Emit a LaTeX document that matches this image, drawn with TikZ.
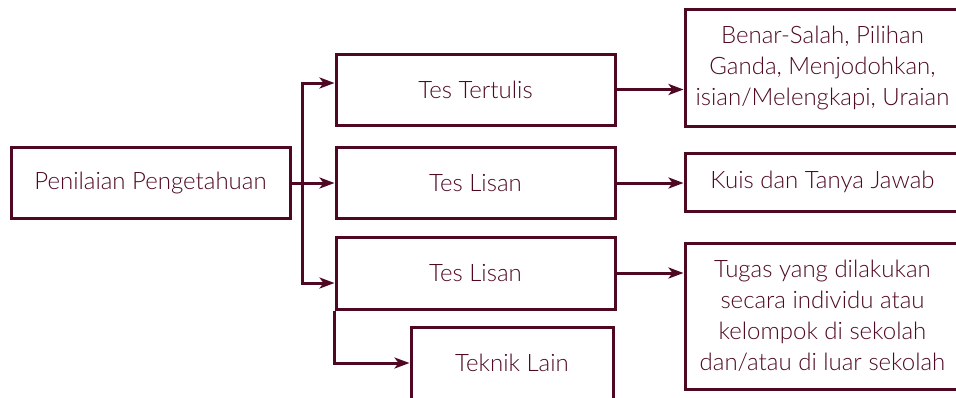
\documentclass[tikz,border=0pt]{standalone}
\usepackage{fontspec}
\setmainfont{Lato Light}
\usepackage{tikz}
\usetikzlibrary{positioning,arrows.meta}
\definecolor{marun}{RGB}{78,8,34}
\tikzstyle{akar}=[draw=marun, fill=white, minimum height = 71pt, minimum width=279pt, line width=3pt, text=marun, inner sep=0pt]
\tikzstyle{tes}=[draw=marun, fill=white, minimum height = 71pt, minimum width=279pt, line width=3pt, text=marun, inner sep=0pt]
\tikzstyle{ket}=[draw=marun, fill=white, minimum width=275pt, line width=3pt, text=marun, align=center, inner sep=0pt]
\tikzstyle{pan}=[draw=marun, line width=3pt, -{Stealth[length=15pt,width=11pt,inset=4pt]}]

\begin{document}
\begin{tikzpicture}[x=1pt,y=-1pt,font=\fontsize{24}{31}\selectfont]
\path[use as bounding box, clip] (0,0) rectangle (956,397);
\fill[white] (0,0) rectangle (956,397);

\node[akar] at (150.5,183) (pen) {Penilaian Pengetahuan};

\node[tes] at (475.5,89.5) (tt) {Tes Tertulis};
\node[tes] at (475.5,183) (tl1) {Tes Lisan};
\node[tes, minimum height = 72pt] at (475.5,273) (tl2) {Tes Lisan};
\node[tes, minimum width=202pt, minimum height = 72pt] at (512,363) (tk) {Teknik Lain};

\node[ket, minimum height = 117pt] at (822.5,67.5) (bs) {Benar-Salah, Pilihan\\Ganda, Menjodohkan,\\isian/Melengkapi, Uraian};
\node[ket, minimum height = 58pt] at (822.5,182) (kt) {Kuis dan Tanya Jawab};
\node[ket, minimum height = 146pt] at (822.5,316) (tg) {Tugas yang dilakukan\\secara individu atau\\kelompok di sekolah\\dan/atau di luar sekolah};

% cabang dari penilaian
\coordinate (fork) at (302,183);
\draw[pan] (pen.east) -- (tl1.west);
\draw[pan] (fork) |- ([yshift=6.5pt]tt.west);
\draw[pan] (fork) |- ([yshift=-10pt]tl2.west);
\draw[pan] (tl2.south west) |- (tk.west);

% ke keterangan
\draw[pan] (tt.east) -- (tt.east -| bs.west);
\draw[pan] (tl1.east) -- (tl1.east -| kt.west);
\draw[pan] (tl2.east) -- (tl2.east -| tg.west);
\end{tikzpicture}
\end{document}
